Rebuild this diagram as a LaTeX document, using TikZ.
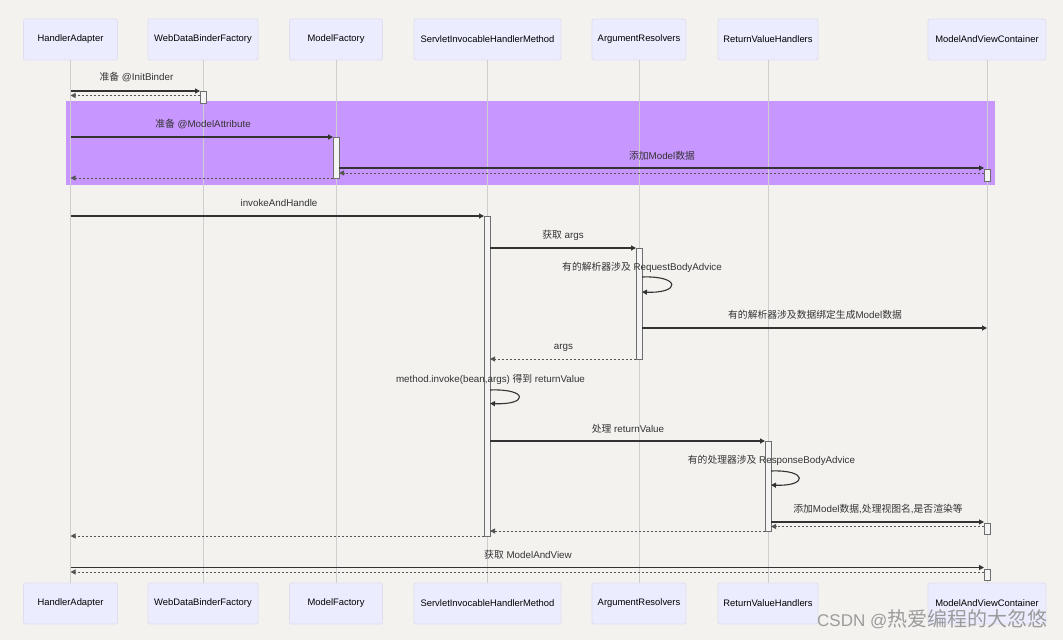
\documentclass[tikz,border=0pt]{standalone}
\usepackage{fontspec}
\setmainfont{Liberation Sans}
\newfontfamily\cjk{Noto Sans CJK SC}
\usetikzlibrary{arrows.meta}
\definecolor{bg}{RGB}{243,242,239}
\definecolor{partfill}{RGB}{236,236,255}
\definecolor{partdraw}{RGB}{222,222,240}
\definecolor{lifecol}{RGB}{206,206,206}
\definecolor{loopfill}{RGB}{200,150,255}
\definecolor{actfill}{RGB}{244,244,244}
\definecolor{actdraw}{RGB}{110,110,110}
\definecolor{msgcol}{RGB}{51,51,51}
\definecolor{retcol}{RGB}{85,85,85}
\definecolor{wmcol}{RGB}{155,155,155}
\newcommand\mkmsg[4]{\coordinate (#1s) at (#2,#4); \coordinate (#1e) at (#3,#4);}
\begin{document}
\begin{tikzpicture}[x=1pt,y=-1pt,
  part/.style={draw=partdraw, fill=partfill, rounded corners=2pt, line width=0.8pt,
    minimum height=41pt, inner sep=0pt, font=\fontsize{9.4}{11}\selectfont, text=black},
  lifeline/.style={draw=lifecol, line width=0.8pt},
  loopbox/.style={fill=loopfill, draw=none, inner sep=0pt},
  actbox/.style={draw=actdraw, fill=actfill, line width=0.8pt, minimum width=6pt, inner sep=0pt},
  msg/.style={draw=msgcol, line width=1.1pt, -{Triangle[length=5pt,width=5pt]}},
  ret/.style={draw=retcol, line width=1pt, dash pattern=on 2pt off 2pt, -{Triangle[length=5pt,width=5pt]}},
  lbl/.style={font=\fontsize{9.8}{12}\selectfont, text=msgcol, inner sep=0pt},
  selfloop/.style={draw=msgcol, line width=1.1pt, -{Triangle[length=5pt,width=5pt]}}
]
\useasboundingbox (0,0) rectangle (1063,640);
\fill[bg] (0,0) rectangle (1063,640);

% loop region
\node[loopbox, minimum width=929pt, minimum height=84pt] (loop) at (530.5,143) {};

% participants
\node[part, minimum width=94pt]  (HAt)  at (70.5,39.5)  {HandlerAdapter};
\node[part, minimum width=110pt] (WDt)  at (203,39.5)   {WebDataBinderFactory};
\node[part, minimum width=93pt]  (MFt)  at (336,39.5)   {ModelFactory};
\node[part, minimum width=147pt] (SIt)  at (487.5,39.5) {ServletInvocableHandlerMethod};
\node[part, minimum width=94pt]  (ARt)  at (639,39.5)   {ArgumentResolvers};
\node[part, minimum width=100pt] (RVt)  at (768,39.5)   {ReturnValueHandlers};
\node[part, minimum width=118pt] (MVt)  at (987,39.5)   {ModelAndViewContainer};

\node[part, minimum width=94pt]  (HAb)  at (70.5,603.5)  {HandlerAdapter};
\node[part, minimum width=110pt] (WDb)  at (203,603.5)   {WebDataBinderFactory};
\node[part, minimum width=93pt]  (MFb)  at (336,603.5)   {ModelFactory};
\node[part, minimum width=147pt] (SIb)  at (487.5,603.5) {ServletInvocableHandlerMethod};
\node[part, minimum width=94pt]  (ARb)  at (639,603.5)   {ArgumentResolvers};
\node[part, minimum width=100pt] (RVb)  at (768,603.5)   {ReturnValueHandlers};
\node[part, minimum width=118pt] (MVb)  at (987,603.5)   {ModelAndViewContainer};

% lifelines
\foreach \p in {HA,WD,MF,SI,AR,RV,MV}{
  \draw[lifeline] (\p t.south) -- (\p b.north);
}

% activations
\node[actbox, minimum height=12pt]  (aWD)  at (203,97)    {};
\node[actbox, minimum height=41pt]  (aMF)  at (336,157.5) {};
\node[actbox, minimum height=12pt]  (aMV1) at (987,175)   {};
\node[actbox, minimum height=320pt] (aSI)  at (487,376)   {};
\node[actbox, minimum height=111pt] (aAR)  at (639,303.5) {};
\node[actbox, minimum height=90pt]  (aRV)  at (768,486)   {};
\node[actbox, minimum height=11pt]  (aMV2) at (987,528.5) {};
\node[actbox, minimum height=11pt]  (aMV3) at (987,574.5) {};

% message end points
\mkmsg{m1}{70.5}{200}{91}
\mkmsg{r1}{200}{70.5}{95.5}
\mkmsg{m2}{70.5}{333}{137}
\mkmsg{m3}{339}{984}{168}
\mkmsg{r3}{984}{339}{173}
\mkmsg{r2}{333}{70.5}{178}
\mkmsg{m4}{70.5}{484}{216}
\mkmsg{m5}{490}{636}{248}
\mkmsg{m6}{642}{987}{328}
\mkmsg{r5}{636}{490}{359}
\mkmsg{m7}{490}{765}{441}
\mkmsg{m8}{771}{984}{522}
\mkmsg{r8}{984}{771}{526.5}
\mkmsg{r7}{765}{490}{531}
\mkmsg{r4}{484}{70.5}{536}
\mkmsg{m9}{70.5}{984}{567.5}
\mkmsg{r9}{984}{70.5}{572}
\coordinate (s1s) at (642,277);  \coordinate (s1e) at (642,292);
\coordinate (s2s) at (490,390);  \coordinate (s2e) at (490,403.5);
\coordinate (s3s) at (771,471);  \coordinate (s3e) at (771,485);

% messages
\draw[msg] (m1s) -- (m1e);
\draw[ret] (r1s) -- (r1e);
\draw[msg] (m2s) -- (m2e);
\draw[msg] (m3s) -- (m3e);
\draw[ret] (r3s) -- (r3e);
\draw[ret] (r2s) -- (r2e);
\draw[msg] (m4s) -- (m4e);
\draw[msg] (m5s) -- (m5e);
\draw[selfloop] (s1s) .. controls (681,275.5) and (681,293.5) .. (s1e);
\draw[msg] (m6s) -- (m6e);
\draw[ret] (r5s) -- (r5e);
\draw[selfloop] (s2s) .. controls (528.5,388.5) and (528.5,405) .. (s2e);
\draw[msg] (m7s) -- (m7e);
\draw[selfloop] (s3s) .. controls (808,469.5) and (808,486.5) .. (s3e);
\draw[msg] (m8s) -- (m8e);
\draw[ret] (r8s) -- (r8e);
\draw[ret] (r7s) -- (r7e);
\draw[ret] (r4s) -- (r4e);
\draw[msg] (m9s) -- (m9e);
\draw[ret] (r9s) -- (r9e);

% labels
\node[lbl] (l1)  at (136.5,77)  {{\cjk 准备} @InitBinder};
\node[lbl] (l2)  at (203,124)   {{\cjk 准备} @ModelAttribute};
\node[lbl] (l3)  at (662,156)   {{\cjk 添加}Model{\cjk 数据}};
\node[lbl] (l4)  at (279,203)   {invokeAndHandle};
\node[lbl] (l5)  at (563,235)   {{\cjk 获取} args};
\node[lbl] (l6)  at (642,267)   {{\cjk 有的解析器涉及} RequestBodyAdvice};
\node[lbl] (l7)  at (815,315)   {{\cjk 有的解析器涉及数据绑定生成}Model{\cjk 数据}};
\node[lbl] (l8)  at (563.5,348) {args};
\node[lbl] (l9)  at (490.5,379) {method.invoke(bean,args) {\cjk 得到} returnValue};
\node[lbl] (l10) at (628,428.5) {{\cjk 处理} returnValue};
\node[lbl] (l11) at (771.5,460) {{\cjk 有的处理器涉及} ResponseBodyAdvice};
\node[lbl] (l12) at (878,508.5) {{\cjk 添加}Model{\cjk 数据},{\cjk 处理视图名},{\cjk 是否渲染等}};
\node[lbl] (l13) at (528,555)   {{\cjk 获取} ModelAndView};

% watermark
\node[anchor=base west, inner sep=0pt, text=wmcol] (wm) at (817,626)
  {\fontsize{17}{20}\selectfont CSDN @{\cjk\fontsize{20}{22}\selectfont 热爱编程的大忽悠}};
\end{tikzpicture}
\end{document}
